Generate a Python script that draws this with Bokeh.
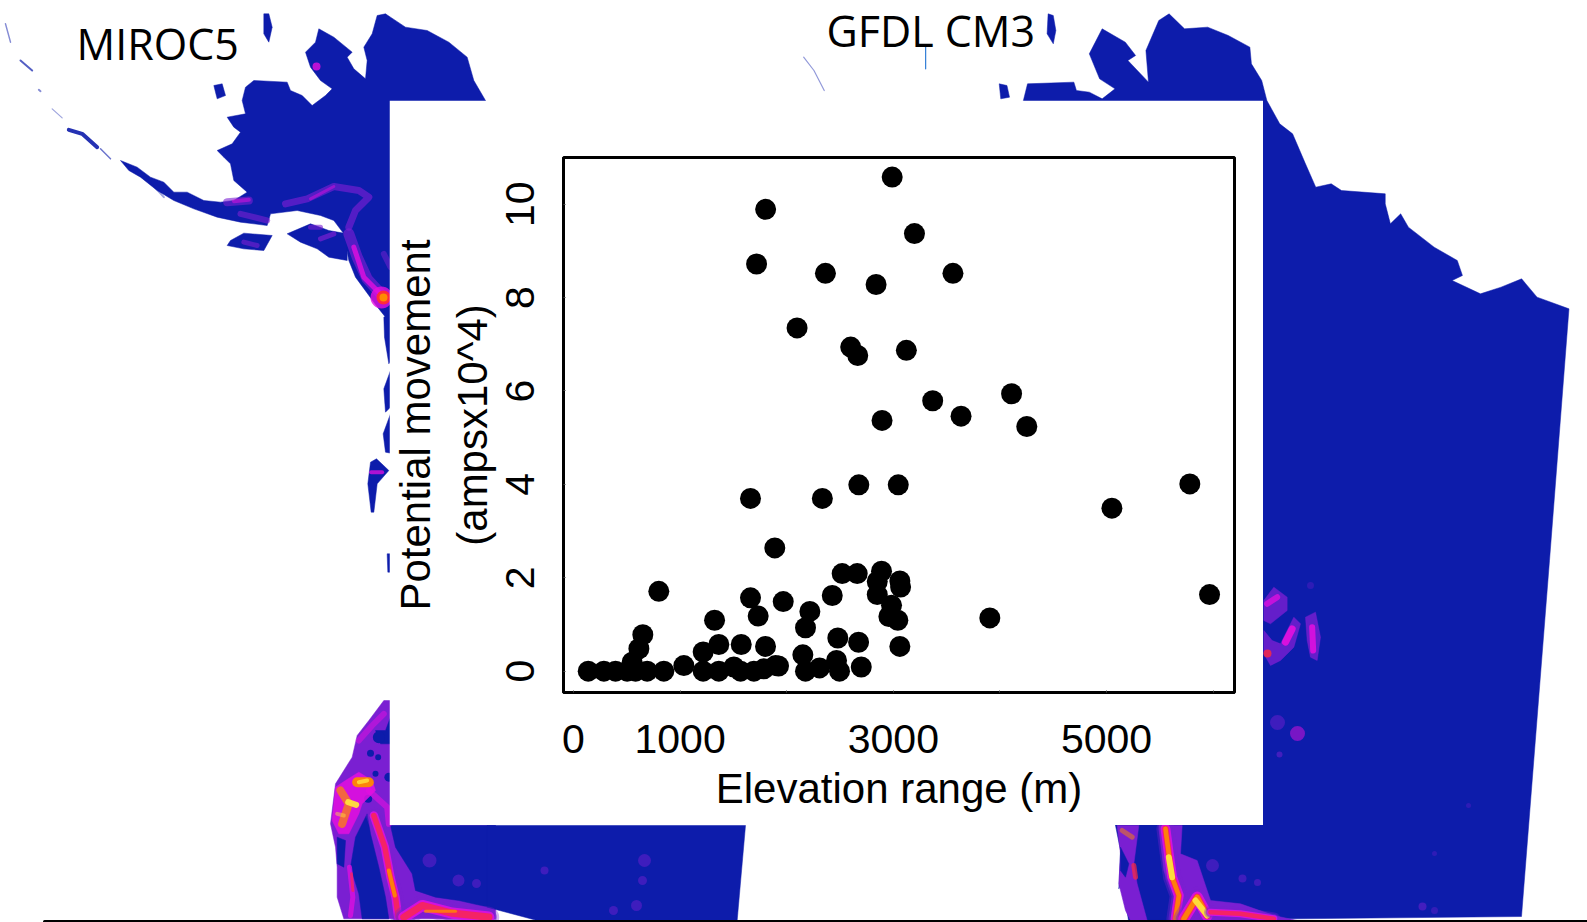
from bokeh.embed import file_html
from bokeh.resources import INLINE
from bokeh.plotting import figure
from bokeh.layouts import column
from bokeh.models import Range1d, FixedTicker
from bokeh.core.properties import value

# ---- scatter data ----
elevation = [138, 285, 394, 503, 582, 550, 613, 650, 691, 847, 800, 1035, 1216, 1216, 1363, 1363, 1323,
             1504, 1573, 1567, 1692, 1801, 1785, 1660, 1732, 1895, 1967, 1888, 1923,
             2520, 2661, 2889, 2849, 2849, 3061, 3068, 2427, 2217, 2176, 2983, 2958, 3042, 3061,
             2479, 2674, 2151, 2467, 2699, 2176, 2308, 2495, 3905, 5966,
             2989, 1802, 3198, 1717, 2363, 2838, 3559, 2097, 2600, 2666, 3122, 4109, 3369, 3635,
             2894, 4252, 2676, 3046, 5781, 1660, 2334, 5050]
movement = [0.0, 0.0, 0.0, 0.0, 0.0, 0.19, 0.48, 0.78, 0.0, 0.0, 1.71, 0.12, 0.0, 0.41, 0.57, 0.0, 1.09,
            0.09, 0.57, 0.0, 0.0, 0.53, 0.05, 1.57, 1.18, 0.12, 1.49, 2.64, 0.11,
            2.09, 2.09, 2.14, 1.92, 1.64, 1.93, 1.80, 1.62, 1.28, 0.93, 1.41, 1.17, 1.09, 0.53,
            0.71, 0.62, 0.35, 0.23, 0.09, 0.0, 0.07, 0.0, 1.14, 1.64,
            10.58, 9.89, 9.37, 8.72, 8.52, 8.28, 8.52, 7.35, 6.94, 6.76, 6.87, 5.94, 5.79, 5.46,
            5.37, 5.24, 3.99, 3.99, 4.01, 3.70, 3.70, 3.49]
x_ticks = [0, 1000, 2000, 3000, 4000, 5000, 6000]
x_tick_labels = {1000: "1000", 3000: "3000", 5000: "5000", 0: "0", 2000: "", 4000: "", 6000: ""}
y_ticks = [0, 2, 4, 6, 8, 10]
x_title = "Elevation range (m)"
y_title = "Potential movement\n(ampsx10^4)"
panel_titles = ["MIROC5", "GFDL CM3"]

# ---- colours of the two map panels ----
BLUE = "#0d1cab"
PURPLE = "#7a1fd2"
MAGENTA = "#e40fe0"
RED = "#ff2a3c"
ORANGE = "#ff8a00"
YELLOW = "#ffe23c"


def z(ox, oy, fx, fy, pts):
    return [(ox + a / fx, oy + b / fy) for a, b in pts]


def z1(pts):
    return z(0, 0, 3, 3, pts)


def z2(pts):
    return z(780, 0, 1.943, 3, pts)


def z4(pts):
    return z(1090, 560, 3, 3, pts)


def z8(pts):
    return z(340, 270, 3, 3, pts)


def z9(pts):
    return z(1100, 820, 3, 3, pts)


def z10(pts):
    return z(325, 700, 3, 3, pts)


bg = figure(width=1587, height=922, x_range=Range1d(0, 1587), y_range=Range1d(922, 0),
            output_backend="svg", toolbar_location=None, min_border=0, frame_align=False,
            margin=(0, 0, 0, 0))
bg.axis.visible = False
bg.grid.visible = False
bg.outline_line_color = None
bg.background_fill_color = "white"
bg.border_fill_color = "white"


def poly(pts, color=BLUE, alpha=1.0):
    bg.patch([p[0] for p in pts], [p[1] for p in pts], fill_color=color, fill_alpha=alpha,
             line_color=color, line_alpha=alpha * 0.5, line_width=1)


def streak(pts, color, width, alpha=1.0):
    bg.line([p[0] for p in pts], [p[1] for p in pts], line_color=color, line_width=width,
            line_alpha=alpha, line_cap="round", line_join="round")


def spot(x, y, color, size, alpha=1.0):
    bg.scatter([x], [y], size=size, fill_color=color, fill_alpha=alpha, line_color=None)


def glow(pts, w, level=1):
    """Soft-edged hot ridge: purple halo, then magenta, red, orange, yellow core by level."""
    streak(pts, PURPLE, w * 2.6, 0.35)
    streak(pts, PURPLE, w * 2.0, 0.55)
    streak(pts, MAGENTA, w * 1.4, 0.55 if level == 0 else 0.85)
    if level >= 1:
        streak(pts, RED, w * 0.9, 0.75)
    if level >= 2:
        streak(pts, ORANGE, w * 0.65, 0.9)
    if level >= 3:
        streak(pts, YELLOW, w * 0.35, 0.95)


# ---- left map: Alaska ----
poly(z1([(1462, 312), (1420, 240), (1400, 170), (1345, 125), (1280, 90), (1215, 80), (1170, 50), (1155, 40),
         (1130, 45), (1115, 100), (1090, 140), (1100, 180), (1095, 235), (1060, 205), (1040, 170), (1055, 155),
         (1000, 110), (955, 85), (945, 125), (915, 155), (930, 200), (960, 240), (995, 265), (975, 285),
         (935, 315), (905, 285), (870, 270), (860, 245), (760, 240), (735, 260), (725, 300), (735, 340),
         (680, 350), (700, 380), (720, 395), (695, 430), (650, 450), (670, 470), (690, 490), (700, 540),
         (740, 575), (700, 600), (660, 605), (610, 600), (560, 575), (520, 575), (490, 545), (450, 530),
         (410, 500), (360, 480), (385, 510), (420, 530), (470, 570), (520, 600), (580, 625), (650, 650),
         (720, 665), (800, 675), (810, 640), (890, 630), (960, 645), (1000, 660), (1030, 700), (1045, 780),
         (1065, 830), (1131, 920), (1155, 950), (1170, 990), (1200, 990), (1462, 990)]))
poly(z1([(860, 700), (930, 670), (985, 690), (1040, 700), (1040, 780), (985, 770), (950, 745), (900, 725)]))
poly(z1([(690, 720), (730, 698), (815, 705), (790, 750), (730, 745), (680, 735)]))
poly(z1([(640, 255), (665, 250), (675, 285), (650, 295)]))
poly(z1([(790, 40), (805, 40), (815, 80), (805, 125), (790, 100)]))
streak(z1([(205, 388), (245, 400), (290, 440)]), BLUE, 4, 0.9)
streak(z1([(300, 445), (330, 475)]), BLUE, 1.5, 0.6)
streak(z1([(440, 535), (490, 590)]), BLUE, 2, 0.4)
streak(z1([(15, 70), (30, 125)]), BLUE, 1.5, 0.5)
streak(z1([(60, 180), (95, 210)]), BLUE, 2, 0.7)
streak(z1([(115, 268), (120, 272)]), BLUE, 2, 0.5)
streak(z1([(155, 325), (185, 352)]), BLUE, 1.2, 0.4)
# hot ridges in Alaska
streak(z1([(680, 605), (745, 600)]), PURPLE, 8, 0.6)
streak(z1([(700, 602), (745, 598)]), MAGENTA, 4, 0.5)
streak(z1([(720, 640), (800, 660)]), PURPLE, 6, 0.6)
streak(z1([(855, 610), (920, 595), (1000, 558), (1075, 570), (1105, 590), (1065, 630), (1045, 680)]), PURPLE, 7, 0.65)
streak(z1([(930, 595), (1000, 558)]), MAGENTA, 3, 0.45)
streak(z1([(1045, 700), (1070, 770), (1100, 835), (1150, 890)]), PURPLE, 11, 0.65)
streak(z1([(1060, 740), (1090, 830), (1150, 890)]), MAGENTA, 5, 0.8)
streak(z1([(1150, 760), (1170, 800)]), PURPLE, 6, 0.5)
streak(z1([(930, 680), (960, 680)]), PURPLE, 5, 0.6)
streak(z1([(730, 725), (770, 735)]), PURPLE, 5, 0.6)
streak(z1([(960, 715), (1000, 700)]), PURPLE, 5, 0.7)
spot(381, 297, MAGENTA, 22, 0.8)
spot(383, 297, RED, 14)
spot(383, 297, ORANGE, 8)
spot(316, 66, MAGENTA, 8, 0.8)
# Pacific coast pieces beside the panel
poly(z8([(130, 140), (150, 130), (160, 260), (145, 280), (132, 200)]))
poly(z8([(130, 355), (150, 300), (160, 400), (135, 425)]))
poly(z8([(128, 490), (150, 430), (160, 550), (135, 545)]))
poly(z8([(90, 575), (108, 565), (145, 600), (110, 640), (100, 725), (92, 725), (82, 640)]))
streak(z8([(92, 605), (125, 605)]), MAGENTA, 4, 0.75)
poly(z8([(140, 850), (152, 850), (152, 905), (142, 905)]))

# ---- left map: South America edge ----
poly(z10([(175, 0), (130, 60), (95, 105), (80, 170), (30, 250), (15, 370), (30, 440), (35, 500), (35, 590),
          (55, 655), (510, 655), (510, 375), (195, 375), (195, 0)]), PURPLE)
poly(z10([(195, 375), (210, 440), (260, 520), (270, 570), (330, 590), (400, 600), (510, 625), (510, 375)]))
poly(z(320, 640, 3, 3, [(500, 555), (1275, 555), (1250, 840), (650, 840), (500, 800)]))
poly(z10([(125, 340), (90, 410), (75, 500), (100, 580), (110, 655), (190, 655), (180, 590), (160, 500),
          (135, 400)]))
poly(z10([(35, 410), (60, 420), (55, 500), (35, 490)]))
poly(z10([(150, 90), (180, 90), (195, 50), (195, 130), (165, 130)]))
for cx, cy, sz in [(160, 110, 12), (135, 158, 7), (158, 170, 6), (150, 220, 6), (128, 295, 8), (190, 230, 9)]:
    bx, by = z10([(cx, cy)])[0]
    spot(bx, by, BLUE, sz)
poly(z10([(30, 260), (60, 240), (100, 215), (140, 240), (150, 270), (110, 310), (100, 340), (70, 400), (40, 400),
          (20, 360)]), MAGENTA, 0.85)
streak(z10([(45, 270), (70, 310), (50, 370)]), ORANGE, 8, 0.7)
streak(z10([(95, 245), (130, 245)]), ORANGE, 10, 0.95)
streak(z10([(100, 245), (125, 240)]), YELLOW, 4, 0.8)
streak(z10([(68, 305), (92, 313)]), YELLOW, 6, 0.95)
streak(z10([(35, 340), (55, 345)]), YELLOW, 4, 0.45)
streak(z10([(100, 120), (140, 75), (175, 40)]), MAGENTA, 6, 0.5)
streak(z10([(130, 270), (185, 320), (190, 370)]), MAGENTA, 6, 0.6)
glow(z10([(145, 345), (178, 440), (195, 530), (210, 590), (218, 650)]), 6, 1)
streak(z10([(190, 510), (208, 585)]), ORANGE, 4, 0.9)
streak(z10([(72, 500), (82, 590), (75, 645)]), MAGENTA, 5, 0.75)
streak(z10([(78, 520), (82, 570)]), RED, 3, 0.6)
glow(z10([(235, 650), (290, 615), (380, 638), (490, 650)]), 8, 1)
streak(z10([(300, 632), (390, 632)]), ORANGE, 3, 0.8)
for px, py, sz in [(429, 860, 14), (458, 880, 12), (476, 883, 9), (544, 870, 8), (644, 860, 13),
                   (642, 880, 9), (636, 905, 11), (613, 910, 9)]:
    spot(px, py, PURPLE, sz, 0.45)

# ---- right map ----
poly(z2([(470, 312), (480, 250), (570, 245), (575, 270), (600, 275), (625, 295), (650, 265), (620, 235),
         (600, 160), (625, 85), (670, 125), (690, 165), (675, 180), (715, 245), (710, 150), (735, 60), (755, 40),
         (785, 85), (830, 80), (870, 105), (912, 140), (915, 190), (935, 240), (945, 300), (970, 370),
         (995, 400), (1020, 490), (1040, 560), (1070, 550), (1090, 570), (1175, 580), (1175, 610), (1185, 670),
         (1205, 640), (1220, 680), (1270, 740), (1315, 780), (1325, 825), (1305, 840), (1360, 880), (1400, 860),
         (1440, 835), (1470, 890), (1532, 925)]) +
     [(1549, 560), (1521, 916), (1128, 920)] +
     z4([(95, 960), (85, 985), (90, 870), (75, 795), (60, 780), (-400, 780), (-400, 0)]))
poly(z2([(520, 40), (530, 45), (535, 90), (530, 130), (518, 100)]))
poly(z2([(425, 250), (440, 255), (445, 290), (428, 295)]))
streak(z2([(45, 170), (65, 210), (85, 270)]), BLUE, 1.2, 0.45)
streak(z2([(282, 140), (282, 205)]), "#1a6fd0", 1.2, 0.9)
# hot blobs to the right of the panel
poly(z4([(520, 120), (550, 80), (590, 110), (590, 150), (540, 190), (520, 180)]), PURPLE, 0.8)
poly(z4([(570, 250), (610, 170), (630, 190), (610, 260), (570, 300), (540, 315), (520, 280), (520, 210), (545, 240)]),
     PURPLE, 0.8)
poly(z4([(645, 170), (675, 155), (690, 230), (680, 300), (660, 290), (650, 240)]), PURPLE, 0.8)
streak(z4([(530, 130), (560, 110)]), MAGENTA, 6, 0.75)
streak(z4([(585, 245), (605, 205)]), MAGENTA, 7, 0.9)
streak(z4([(665, 200), (668, 270)]), MAGENTA, 6, 0.85)
spot(1267, 653, RED, 8, 0.8)
spot(1310, 585, PURPLE, 7, 0.3)
spot(1277, 722, PURPLE, 15, 0.45)
spot(1297, 733, MAGENTA, 15, 0.5)
spot(1279, 754, PURPLE, 6, 0.5)
# South America edge, right map
poly(z9([(50, 15), (60, 100), (55, 190), (75, 270), (90, 300), (140, 300), (110, 190), (100, 130), (115, 15)]), PURPLE)
poly(z9([(60, 80), (85, 130), (75, 170), (60, 150)]))
streak(z9([(65, 30), (95, 50)]), ORANGE, 5, 0.5)
streak(z9([(100, 135), (105, 170)]), RED, 5, 0.7)
poly(z9([(175, 15), (245, 15), (240, 100), (290, 120), (330, 240), (420, 250), (520, 285), (590, 300), (215, 300),
         (225, 240), (190, 150)]), PURPLE)
glow(z9([(195, 25), (205, 100), (215, 170), (235, 225), (225, 295)]), 7, 2)
streak(z9([(205, 110), (215, 170)]), YELLOW, 6, 0.95)
glow(z9([(250, 295), (290, 230), (320, 285)]), 8, 2)
streak(z9([(285, 240), (320, 285)]), YELLOW, 6, 0.95)
glow(z9([(330, 275), (420, 280), (520, 295)]), 5, 1)
for px, py, sz in [(1212, 865, 13), (1242, 878, 8), (1257, 882, 7)]:
    spot(px, py, PURPLE, sz, 0.45)
spot(1422, 906, PURPLE, 8, 0.5)
spot(1434, 910, PURPLE, 7, 0.35)
spot(1468, 805, PURPLE, 5, 0.3)
spot(1434, 853, PURPLE, 5, 0.3)

# ---- black rule along the bottom edge ----
streak([(44, 921), (1587, 921)], "black", 3)

# ---- panel titles ----
bg.text([76], [43], text=[panel_titles[0]], text_font=value("Open Sans"), text_font_size="43px",
        text_color="black", text_baseline="alphabetic")
bg.text([826], [30], text=[panel_titles[1]], text_font=value("Open Sans"), text_font_size="43px",
        text_color="black", text_baseline="alphabetic")

# ---- the scatter plot, laid over the maps on its white panel ----
p = figure(width=874, height=725, x_range=Range1d(-94, 6200), y_range=Range1d(-0.457, 11.0),
           output_backend="svg", toolbar_location=None, frame_align=False,
           min_border_left=173, min_border_right=29, min_border_top=57, min_border_bottom=133,
           margin=(-822, 0, 0, 389))
p.grid.visible = False
p.background_fill_color = "white"
p.border_fill_color = "white"
p.outline_line_color = "black"
p.outline_line_width = 3
p.scatter(elevation, movement, size=21, fill_color="black", line_color=None)

xa = p.xaxis[0]
xa.ticker = FixedTicker(ticks=x_ticks)
xa.major_label_overrides = x_tick_labels
xa.axis_label = x_title
ya = p.yaxis[0]
ya.ticker = FixedTicker(ticks=y_ticks)
ya.axis_label = y_title
ya.major_label_orientation = "vertical"
for ax in (xa, ya):
    ax.axis_line_color = "black"
    ax.axis_line_width = 3
    ax.major_tick_in = 2
    ax.major_tick_out = 0
    ax.major_tick_line_color = "#444444"
    ax.minor_tick_line_color = None
    ax.major_label_text_font = "Liberation Sans"
    ax.major_label_text_font_size = "41px"
    ax.major_label_text_color = "black"
    ax.axis_label_text_font = "Liberation Sans"
    ax.axis_label_text_font_size = "42px"
    ax.axis_label_text_font_style = "normal"
    ax.axis_label_text_color = "black"
xa.major_label_standoff = 32
xa.axis_label_standoff = 9
ya.major_label_standoff = 29
ya.axis_label_standoff = 8

open("out.html", "w").write(file_html(column(bg, p), INLINE))
